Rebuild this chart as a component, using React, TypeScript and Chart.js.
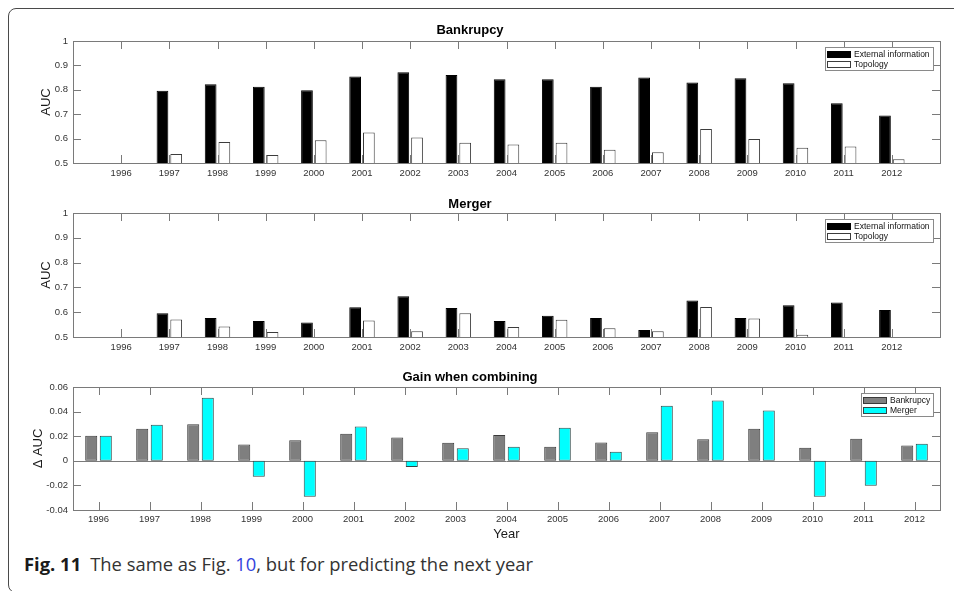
import React, { useEffect, useRef } from 'react';
import { Chart, registerables } from 'chart.js';

Chart.register(...registerables);

const FONT = '"Liberation Sans", Arial, Helvetica, sans-serif';
Chart.defaults.font.family = FONT;

const years = ['1996', '1997', '1998', '1999', '2000', '2001', '2002', '2003', '2004', '2005', '2006', '2007', '2008', '2009', '2010', '2011', '2012'];

const bankruptcyExternal = [null, 0.796, 0.823, 0.812, 0.798, 0.854, 0.872, 0.861, 0.843, 0.843, 0.812, 0.850, 0.830, 0.847, 0.827, 0.745, 0.695];
const bankruptcyTopology = [null, 0.537, 0.586, 0.533, 0.593, 0.625, 0.604, 0.583, 0.576, 0.583, 0.554, 0.544, 0.639, 0.598, 0.563, 0.568, 0.515];

const mergerExternal = [null, 0.596, 0.577, 0.565, 0.558, 0.620, 0.664, 0.617, 0.565, 0.586, 0.577, 0.528, 0.647, 0.577, 0.628, 0.639, 0.609];
const mergerTopology = [null, 0.571, 0.542, 0.520, null, 0.567, 0.523, 0.596, 0.540, 0.570, 0.535, 0.523, 0.621, 0.575, 0.509, null, null];

const gainBankruptcy = [0.0203, 0.026, 0.0298, 0.0133, 0.0168, 0.022, 0.019, 0.0146, 0.0209, 0.0114, 0.0149, 0.0233, 0.0176, 0.026, 0.0106, 0.0179, 0.0125];
const gainMerger = [0.0203, 0.0293, 0.0512, -0.013, -0.0293, 0.0279, -0.0051, 0.0103, 0.0114, 0.0268, 0.0073, 0.0447, 0.0491, 0.0409, -0.0293, -0.0203, 0.0138];

const aucTicks = [0.5, 0.6, 0.7, 0.8, 0.9, 1];
const gainTicks = [-0.04, -0.02, 0, 0.02, 0.04, 0.06];

const AXIS_COLOR = '#7a7a7a';
const TICK_TEXT = '#333333';
const TICK_SIZE = 9.5;

const framePlugin = {
  id: 'matlabFrame',
  beforeDatasetsDraw(chart: any, _args: any, opts: any) {
    if (opts.baseline === undefined || opts.baseline === null) return;
    const { ctx, chartArea: a, scales } = chart;
    const py = Math.round(scales.y.getPixelForValue(opts.baseline)) + 0.5;
    ctx.save();
    ctx.strokeStyle = AXIS_COLOR;
    ctx.lineWidth = 1;
    ctx.beginPath();
    ctx.moveTo(a.left, py);
    ctx.lineTo(a.right, py);
    ctx.stroke();
    ctx.restore();
  },
  afterDatasetsDraw(chart: any) {
    const { ctx, chartArea: a, scales } = chart;
    const x = scales.x;
    const y = scales.y;
    const len = 8;
    ctx.save();
    ctx.strokeStyle = AXIS_COLOR;
    ctx.lineWidth = 1;
    ctx.beginPath();
    x.ticks.forEach((t: any, i: number) => {
      if (!t.label) return;
      const px = Math.round(x.getPixelForTick(i)) + 0.5;
      ctx.moveTo(px, a.top);
      ctx.lineTo(px, a.top + len);
      ctx.moveTo(px, a.bottom);
      ctx.lineTo(px, a.bottom - len);
    });
    y.ticks.forEach((t: any) => {
      const py = Math.round(y.getPixelForValue(t.value)) + 0.5;
      ctx.moveTo(a.left, py);
      ctx.lineTo(a.left + len, py);
      ctx.moveTo(a.right, py);
      ctx.lineTo(a.right - len, py);
    });
    ctx.stroke();
    ctx.strokeRect(Math.round(a.left) + 0.5, Math.round(a.top) + 0.5, Math.round(a.right) - Math.round(a.left), Math.round(a.bottom) - Math.round(a.top));
    ctx.restore();
  },
};

const boxLegendPlugin = {
  id: 'boxLegend',
  afterDraw(chart: any) {
    const { ctx, chartArea: a } = chart;
    const ds = chart.data.datasets;
    ctx.save();
    ctx.font = `8.5px ${FONT}`;
    const textW = Math.max(...ds.map((d: any) => ctx.measureText(d.label).width));
    const w = Math.round(2 + 24 + 3 + textW + 3);
    const h = 23;
    const right = Math.round(a.right) - 7;
    const left = right - w;
    const top = Math.round(a.top) + 6;
    ctx.fillStyle = '#ffffff';
    ctx.fillRect(left, top, w, h);
    ctx.strokeStyle = '#8a8a8a';
    ctx.lineWidth = 1;
    ctx.strokeRect(left + 0.5, top + 0.5, w, h);
    ds.forEach((d: any, i: number) => {
      const cy = top + 7 + i * 10.5;
      ctx.fillStyle = d.backgroundColor;
      ctx.fillRect(left + 2, Math.round(cy - 3.5), 24, 7);
      ctx.strokeStyle = d.borderColor;
      ctx.strokeRect(left + 2.5, Math.round(cy - 3.5) + 0.5, 23, 6);
      ctx.fillStyle = '#111111';
      ctx.textBaseline = 'middle';
      ctx.textAlign = 'left';
      ctx.fillText(d.label, left + 29, cy + 0.5);
    });
    ctx.restore();
  },
};

function fmt(v: any) {
  return String(Number(Number(v).toFixed(3)));
}

function aucPanel(title: string, ext: (number | null)[], topo: (number | null)[], titlePad: { top: number; bottom: number }, xHeight: number) {
  const labels = ['', ...years, ''];
  return {
    type: 'bar',
    data: {
      labels,
      datasets: [
        {
          label: 'External information',
          data: [null, ...ext, null],
          backgroundColor: '#000000',
          borderColor: '#000000',
          borderWidth: 1,
          borderSkipped: false,
          categoryPercentage: 0.57,
          barPercentage: 0.855,
        },
        {
          label: 'Topology',
          data: [null, ...topo, null],
          backgroundColor: '#ffffff',
          borderColor: '#3c3c3c',
          borderWidth: 1,
          borderSkipped: false,
          categoryPercentage: 0.57,
          barPercentage: 0.855,
        },
      ],
    },
    options: {
      responsive: false,
      animation: false,
      layout: { padding: { left: 0, right: 14, top: 0, bottom: 0 } },
      plugins: {
        legend: { display: false },
        tooltip: { enabled: false },
        title: {
          display: true,
          text: title,
          color: '#000000',
          font: { size: 13, weight: 'bold' },
          padding: titlePad,
        },
        matlabFrame: {},
      },
      scales: {
        x: {
          type: 'category',
          offset: false,
          grid: { display: false, drawTicks: false },
          border: { display: false },
          ticks: { autoSkip: false, maxRotation: 0, minRotation: 0, color: TICK_TEXT, font: { size: TICK_SIZE }, padding: 4.5 },
          afterFit: (s: any) => { s.height = xHeight; },
        },
        y: {
          type: 'linear',
          min: 0.5,
          max: 1,
          afterBuildTicks: (s: any) => { s.ticks = aucTicks.map((v) => ({ value: v })); },
          grid: { display: false, drawTicks: false },
          border: { display: false },
          ticks: { color: TICK_TEXT, font: { size: TICK_SIZE }, padding: 5, callback: fmt },
          title: { display: true, text: 'AUC', color: '#1a1a1a', font: { size: 13 }, padding: { top: 39, bottom: 0 } },
          afterFit: (s: any) => { s.width = 73; },
        },
      },
    },
    plugins: [framePlugin, boxLegendPlugin],
  };
}

function gainPanel() {
  return {
    type: 'bar',
    data: {
      labels: years,
      datasets: [
        {
          label: 'Bankrupcy',
          data: gainBankruptcy,
          backgroundColor: '#7f7f7f',
          borderColor: '#3a3a3a',
          borderWidth: 1,
          borderSkipped: false,
          categoryPercentage: 0.57,
          barPercentage: 0.83,
        },
        {
          label: 'Merger',
          data: gainMerger,
          backgroundColor: '#00ffff',
          borderColor: '#2f4848',
          borderWidth: 1,
          borderSkipped: false,
          categoryPercentage: 0.57,
          barPercentage: 0.83,
        },
      ],
    },
    options: {
      responsive: false,
      animation: false,
      layout: { padding: { left: 0, right: 14, top: 0, bottom: 0 } },
      plugins: {
        legend: { display: false },
        tooltip: { enabled: false },
        title: {
          display: true,
          text: 'Gain when combining',
          color: '#000000',
          font: { size: 13, weight: 'bold' },
          padding: { top: 2.2, bottom: 2.2 },
        },
        matlabFrame: { baseline: 0 },
      },
      scales: {
        x: {
          type: 'category',
          offset: true,
          grid: { display: false, drawTicks: false },
          border: { display: false },
          ticks: { autoSkip: false, maxRotation: 0, minRotation: 0, color: TICK_TEXT, font: { size: TICK_SIZE }, padding: 4 },
          title: { display: true, text: 'Year', color: '#1a1a1a', font: { size: 13 }, padding: { top: 0, bottom: 3.2 } },
          afterFit: (s: any) => { s.height = 35; },
        },
        y: {
          type: 'linear',
          min: -0.04,
          max: 0.06,
          afterBuildTicks: (s: any) => { s.ticks = gainTicks.map((v) => ({ value: v })); },
          grid: { display: false, drawTicks: false },
          border: { display: false },
          ticks: { color: TICK_TEXT, font: { size: TICK_SIZE }, padding: 5, callback: fmt },
          title: { display: true, text: 'Δ AUC', color: '#1a1a1a', font: { size: 13 }, padding: { top: 31, bottom: 0 } },
          afterFit: (s: any) => { s.width = 73; },
        },
      },
    },
    plugins: [framePlugin, boxLegendPlugin],
  };
}

function Panel({ top, height, build }: { top: number; height: number; build: () => any }) {
  const ref = useRef<HTMLCanvasElement>(null);
  useEffect(() => {
    const chart = new Chart(ref.current as HTMLCanvasElement, build());
    return () => chart.destroy();
  }, []);
  return (
    <canvas
      ref={ref}
      width={954}
      height={height}
      style={{ position: 'absolute', left: 0, top, width: 954, height, display: 'block' }}
    />
  );
}

export default function App() {
  return (
    <div style={{ position: 'absolute', left: 0, top: 0, width: 954, height: 591, overflow: 'hidden', background: '#ffffff' }}>
      <div
        style={{
          position: 'absolute',
          left: 8,
          top: 8,
          width: 1000,
          height: 585,
          boxSizing: 'border-box',
          border: '1.5px solid #4a4a4a',
          borderRadius: 8,
        }}
      />
      <Panel top={12} height={180} build={() => aucPanel('Bankrupcy', bankruptcyExternal, bankruptcyTopology, { top: 10.2, bottom: 3.2 }, 29)} />
      <Panel top={192} height={175} build={() => aucPanel('Merger', mergerExternal, mergerTopology, { top: 4.2, bottom: 1.2 }, 30)} />
      <Panel top={367} height={178} build={gainPanel} />
      <div
        style={{
          position: 'absolute',
          left: 24,
          top: 552,
          fontFamily: '"Open Sans", "Noto Sans", sans-serif',
          fontSize: 18.4,
          lineHeight: '24px',
          color: '#333333',
          whiteSpace: 'nowrap',
        }}
      >
        <span style={{ fontWeight: 700, color: '#1a1a1a' }}>Fig. 11</span>
        <span style={{ marginLeft: 9 }}>The same as Fig. </span>
        <span style={{ color: '#3344dd' }}>10</span>
        <span>, but for predicting the next year</span>
      </div>
    </div>
  );
}
